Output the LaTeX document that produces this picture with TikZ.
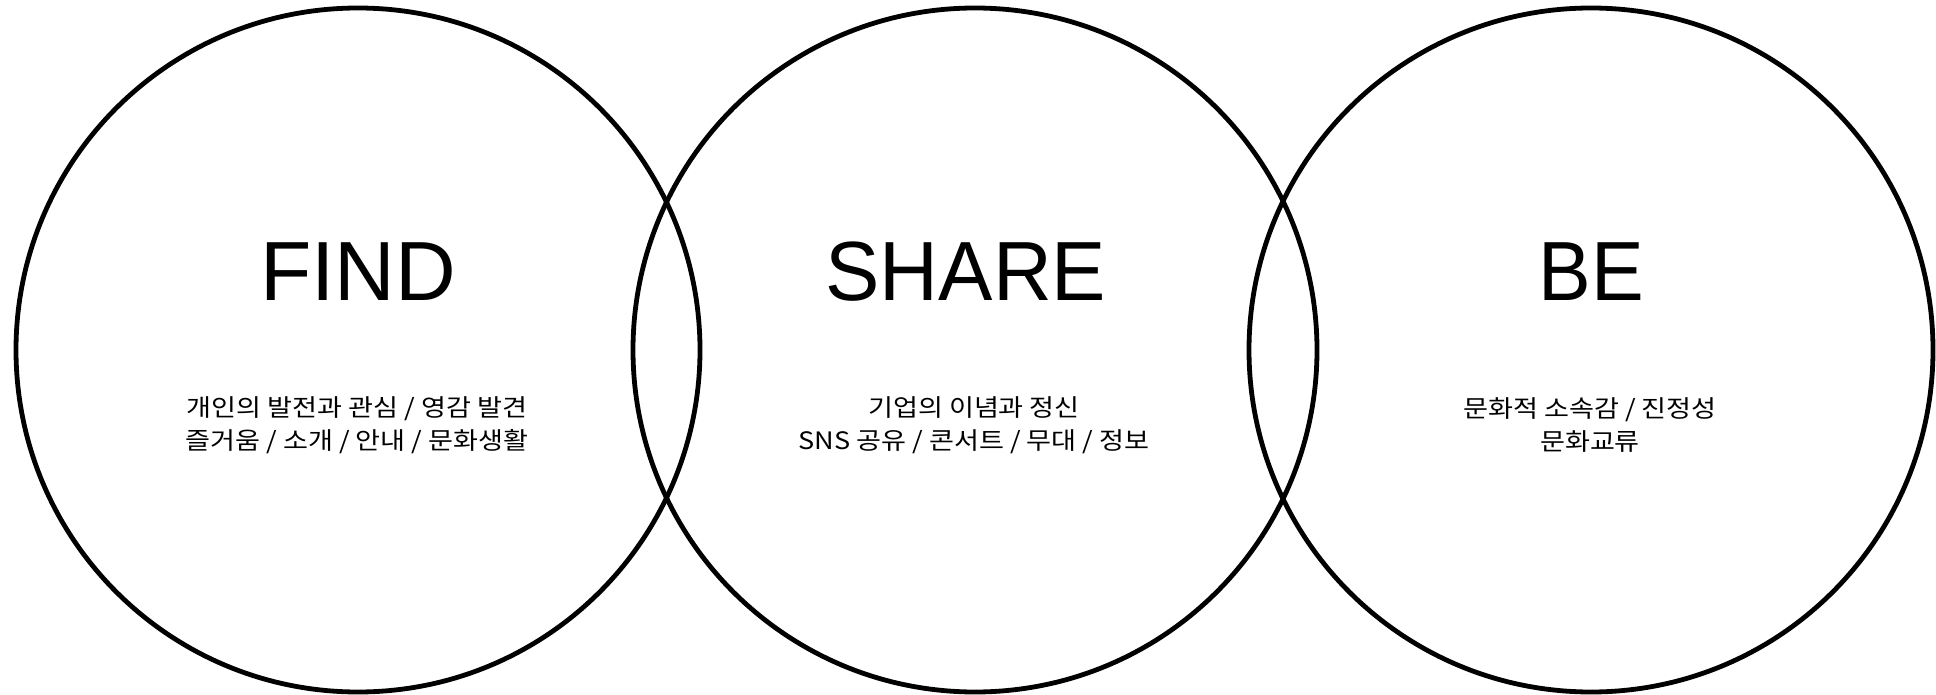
\documentclass[tikz,border=0pt]{standalone}
\usepackage{fontspec}
\setmainfont{Liberation Sans}
\newfontfamily\krfont{Noto Sans CJK KR}
\newfontfamily\titlefont{Liberation Sans}
\tikzset{
  ring/.style={circle, draw=black, line width=4.8pt, minimum size=684pt, inner sep=0pt},
  title/.style={anchor=base, inner sep=0pt, font=\titlefont\fontsize{84}{84}\selectfont},
  desc/.style={align=center, inner sep=0pt, xscale=1.13, font=\krfont\fontsize{24}{33}\selectfont}
}
\begin{document}
\begin{tikzpicture}[x=1pt,y=-1pt]
\useasboundingbox (0,0) rectangle (1936,695);
\node[ring] (find) at (358,350) {};
\node[ring] (share) at (975,350) {};
\node[ring] (be) at (1591,350) {};
\node[title, xscale=1.0] (findt) at (358,300) {FIND};
\node[title, xscale=0.97] (sharet) at (966,300) {SHARE};
\node[title, xscale=0.94] (bet) at (1591,300) {BE};
\node[desc] (findd) at (357,425) {개인의 발전과 관심 / 영감 발견\\즐거움 / 소개 / 안내 / 문화생활};
\node[desc] (shared) at (974,425) {기업의 이념과 정신\\SNS 공유 / 콘서트 / 무대 / 정보};
\node[desc] (bed) at (1590,425) {문화적 소속감 / 진정성\\문화교류};
\end{tikzpicture}
\end{document}
